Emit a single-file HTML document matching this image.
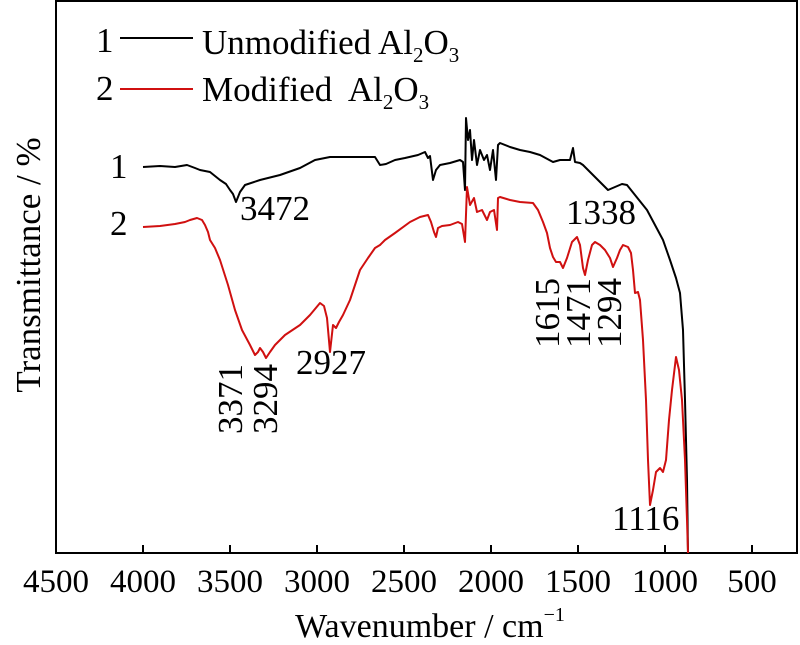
<!DOCTYPE html>
<html><head><meta charset="utf-8"><style>
html,body{margin:0;padding:0;background:#fff;}
svg{display:block;font-family:"Liberation Serif",serif;}
</style></head><body>
<svg width="800" height="645" viewBox="0 0 800 645">
<rect x="56" y="1" width="741" height="552" fill="none" stroke="#000" stroke-width="2"/>
<g stroke="#000" stroke-width="2">
<line x1="143" y1="553" x2="143" y2="545"/><line x1="230" y1="553" x2="230" y2="545"/>
<line x1="317" y1="553" x2="317" y2="545"/><line x1="404" y1="553" x2="404" y2="545"/>
<line x1="491" y1="553" x2="491" y2="545"/><line x1="578" y1="553" x2="578" y2="545"/>
<line x1="665" y1="553" x2="665" y2="545"/><line x1="752" y1="553" x2="752" y2="545"/>
</g>
<g font-size="33" text-anchor="middle">
<text x="56" y="592">4500</text><text x="143" y="592">4000</text><text x="230" y="592">3500</text>
<text x="317" y="592">3000</text><text x="404" y="592">2500</text><text x="491" y="592">2000</text>
<text x="578" y="592">1500</text><text x="665" y="592">1000</text><text x="752" y="592">500</text>
</g>
<text x="430" y="637" font-size="34" text-anchor="middle">Wavenumber / cm<tspan font-size="20" dy="-16">−1</tspan></text>
<text transform="translate(40,265) rotate(-90)" font-size="35" text-anchor="middle">Transmittance / %</text>
<g font-size="35">
<text x="96" y="52">1</text><line x1="120" y1="38" x2="193" y2="38" stroke="#000" stroke-width="2"/>
<text x="202" y="54">Unmodified Al<tspan font-size="21" dy="8">2</tspan><tspan dy="-8">O</tspan><tspan font-size="21" dy="8">3</tspan></text>
<text x="96" y="100">2</text><line x1="120" y1="89" x2="193" y2="89" stroke="#d01010" stroke-width="2"/>
<text x="202" y="101">Modified&#160; Al<tspan font-size="21" dy="8">2</tspan><tspan dy="-8">O</tspan><tspan font-size="21" dy="8">3</tspan></text>
<text x="110" y="178">1</text><text x="110" y="235">2</text>
<text x="240" y="220">3472</text><text x="296" y="374">2927</text>
<text x="566" y="224">1338</text><text x="612" y="530">1116</text>
<text transform="translate(242,434) rotate(-90)">3371</text>
<text transform="translate(277,434) rotate(-90)">3294</text>
<text transform="translate(559,348) rotate(-90)">1615</text>
<text transform="translate(590,348) rotate(-90)">1471</text>
<text transform="translate(621,348) rotate(-90)">1294</text>
</g>
<polyline fill="none" stroke="#000" stroke-width="2" stroke-linejoin="round" points="143,167 160,166 175,167 187,165 195,168 200,170 210,172 220,180 226,184 230,190 233,194 236,202 240,192 245,185 260,180 280,175 300,168 315,160 330,157 350,157 375,157 380,165 386,164 395,160 405,158 418,155 425,152 428,158 430,156 433,180 436,170 440,165 450,163 460,160 463,162 465,190 466,118 468,140 470,130 472,160 474,140 477,165 480,150 484,160 487,155 490,170 493,150 496,180 498,145 500,143 510,147 520,150 530,152 540,155 553,162 560,160 570,160 573,148 575,162 580,163 583,165 590,172 600,182 608,190 615,187 622,184 627,185 635,195 647,210 655,225 663,240 670,260 676,278 680,293 683,330 685,400 687,480 688,553"/>
<polyline fill="none" stroke="#d01010" stroke-width="2" stroke-linejoin="round" points="143,227 160,226 175,224 185,222 190,220 197,218 202,220 205,225 208,232 210,240 215,248 220,260 228,285 235,310 242,330 250,345 255,355 258,352 260,348 263,352 266,358 270,352 275,345 285,335 300,325 310,315 320,303 324,306 327,318 330,352 333,325 336,328 339,322 343,315 350,300 360,270 368,258 375,248 380,245 385,240 395,233 410,222 420,217 428,215 431,222 434,232 436,237 438,228 442,226 450,225 458,222 462,224 465,242 467,187 470,205 474,198 477,212 482,210 487,220 490,212 494,210 497,230 498,198 500,197 510,200 520,202 533,203 538,210 543,222 547,233 550,248 553,257 556,262 560,262 563,268 567,258 572,242 577,237 580,245 583,268 585,275 588,260 592,245 595,242 600,245 605,250 610,258 613,267 617,258 620,250 623,245 628,247 631,253 633,270 635,293 638,292 640,300 643,340 646,400 648,460 650,505 653,490 656,472 660,468 663,472 666,460 669,420 672,390 676,357 679,370 682,400 685,460 687,520 688,553"/>
</svg>
</body></html>
